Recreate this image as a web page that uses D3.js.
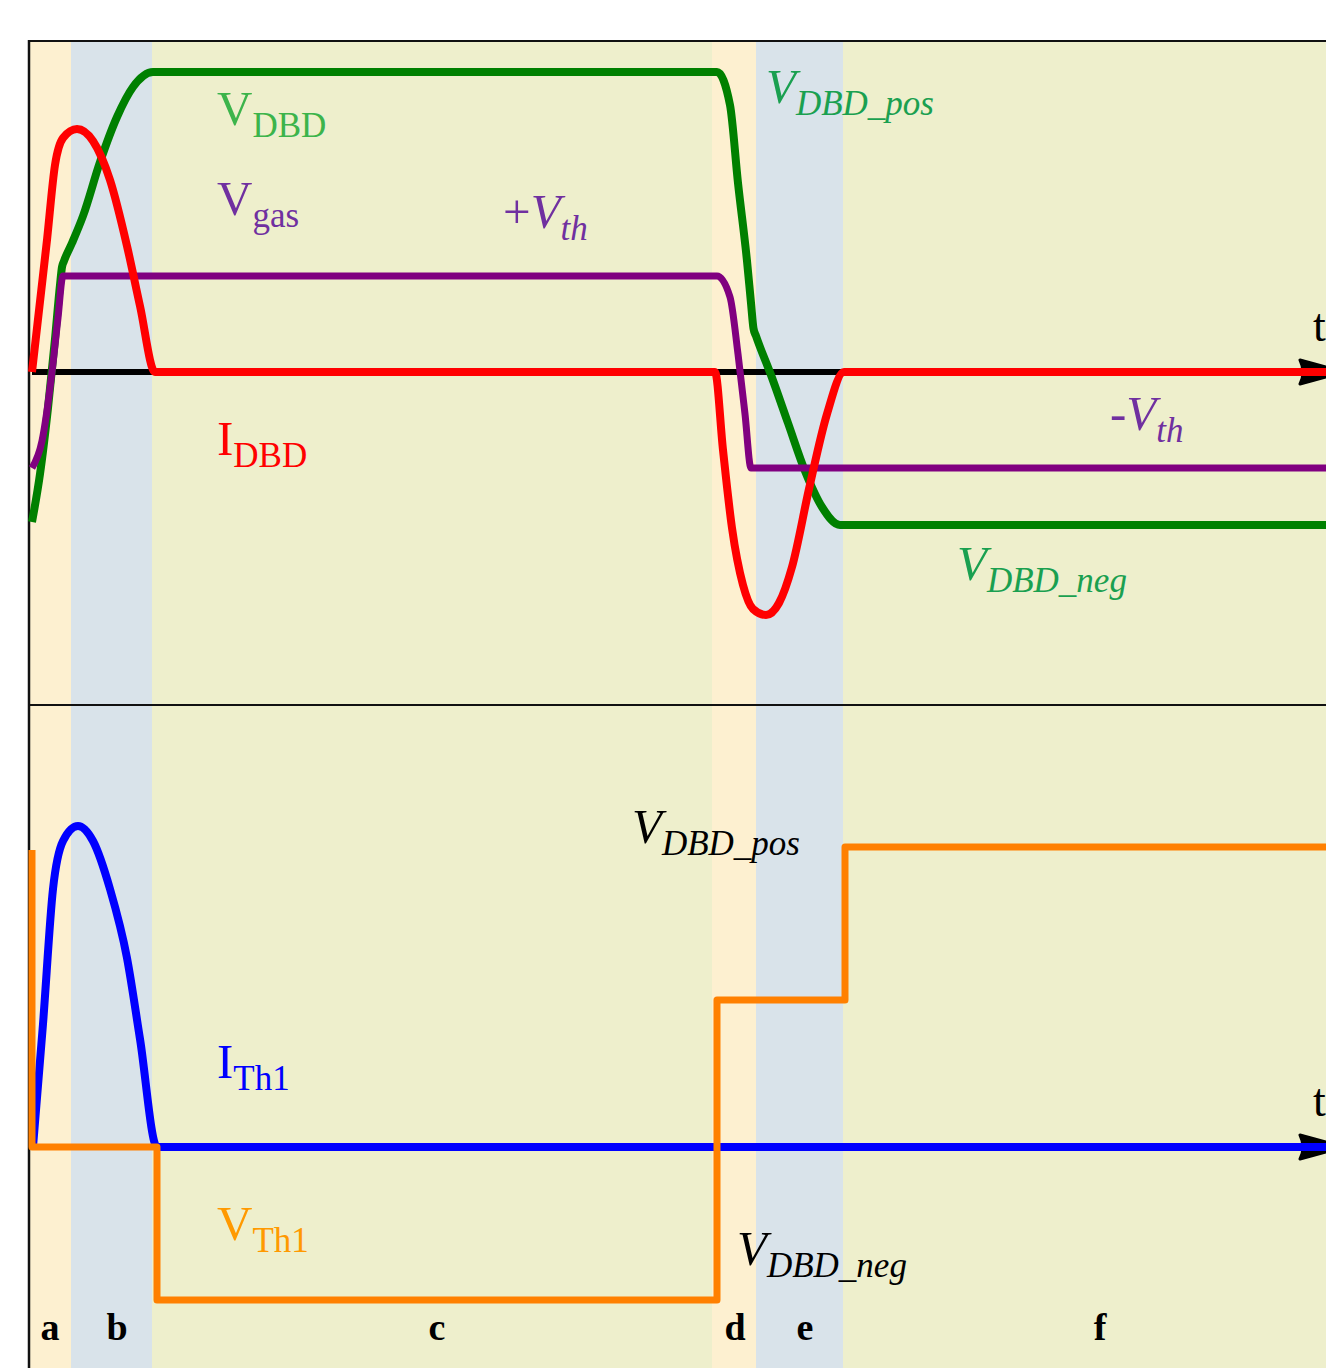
<!DOCTYPE html>
<html>
<head>
<meta charset="utf-8">
<script src="https://cdn.jsdelivr.net/npm/d3@7"></script>
<style>
  body { margin: 0; background: #fff; }
  text { font-family: 'Liberation Serif', 'DejaVu Serif', serif; }
</style>
</head>
<body>
<svg id="chart" width="1326" height="1368"></svg>
<script>
// phase intervals (time units)
const phaseNames = ['a', 'b', 'c', 'd', 'e', 'f']
const phaseStart = [0, 4.2, 12.3, 68.3, 72.7, 81.4]
const phaseEnd = [4.2, 12.3, 68.3, 72.7, 81.4, 131]
const phaseKind = ['dis', 'arc', 'off', 'dis', 'arc', 'off']
const phaseLabelT = [2.1, 8.8, 40.8, 70.6, 77.6, 107.1]

// top panel: V_DBD, V_gas, I_DBD
const vdbdT = [0.3, 1.1, 1.9, 2.6, 3.1, 3.3, 3.5, 4.3, 5.4, 7.1, 8.8, 10.4, 12.4, 68.8, 70.1, 70.9, 71.8, 72.2, 72.45, 72.7, 74.2, 75.9, 77.6, 79.3, 81.1, 82, 130]
const vdbdV = [-0.50, -0.34, -0.12, 0.11, 0.29, 0.35, 0.37, 0.43, 0.52, 0.70, 0.85, 0.95, 1.0, 1.0, 0.89, 0.63, 0.37, 0.23, 0.145, 0.12, -0.01, -0.17, -0.33, -0.45, -0.51, -0.51, -0.51]

const vgasT = [0.3, 1.3, 2.3, 2.9, 3.4, 3.9, 68.8, 70.1, 70.9, 71.6, 72.2, 130]
const vgasV = [-0.32, -0.23, 0.0, 0.18, 0.32, 0.32, 0.32, 0.25, 0.06, -0.14, -0.32, -0.32]

const idbdT = [0.3, 1.8, 2.6, 3.4, 4.8, 6.4, 8.1, 9.8, 11.1, 12.6, 68.6, 69.4, 70.3, 71.4, 72.4, 73.7, 75.0, 76.3, 78.0, 79.8, 81.5, 130]
const idbdV = [0, 0.44, 0.69, 0.78, 0.81, 0.77, 0.64, 0.42, 0.22, 0, 0, -0.26, -0.52, -0.71, -0.79, -0.81, -0.77, -0.65, -0.39, -0.14, 0, 0]

// bottom panel: I_Th1, V_Th1
const ithT = [0.4, 1.4, 2.4, 3.4, 4.9, 6.4, 8.1, 9.8, 11.1, 12.8, 130]
const ithV = [0, 0.41, 0.86, 1.02, 1.07, 1.02, 0.86, 0.63, 0.36, 0, 0]

const vthT = [0.3, 0.3, 12.8, 12.8, 68.8, 68.8, 81.6, 81.6, 130]
const vthV = [0.99, 0, 0, -0.51, -0.51, 0.49, 0.49, 1.0, 1.0]

const svg = d3.select('#chart')

const x = d3.scaleLinear().domain([0, 130]).range([29, 1329])
const yTop = d3.scaleLinear().domain([-1, 1]).range([672, 72])
const yBot = d3.scaleLinear().domain([-1, 1]).range([1447, 847])

const bgColor = { dis: '#fdf0d0', arc: '#d9e3ea', off: '#eeefcc' }

// phase backgrounds
svg.append('g')
  .selectAll('rect')
  .data(phaseNames)
  .join('rect')
  .attr('x', (d, i) => x(phaseStart[i]))
  .attr('y', 41)
  .attr('width', (d, i) => x(phaseEnd[i]) - x(phaseStart[i]))
  .attr('height', 1368 - 41)
  .attr('fill', (d, i) => bgColor[phaseKind[i]])

// frame + panel divider
svg.append('line').attr('x1', 29).attr('x2', 1326).attr('y1', 41).attr('y2', 41)
  .attr('stroke', '#111').attr('stroke-width', 2)
svg.append('line').attr('x1', 29).attr('x2', 29).attr('y1', 40).attr('y2', 1368)
  .attr('stroke', '#111').attr('stroke-width', 2.5)
svg.append('line').attr('x1', 29).attr('x2', 1326).attr('y1', 705).attr('y2', 705)
  .attr('stroke', '#111').attr('stroke-width', 2)

// time axes with arrow
function timeAxis (y0) {
  svg.append('line')
    .attr('x1', 32).attr('x2', 1310).attr('y1', y0).attr('y2', y0)
    .attr('stroke', '#000').attr('stroke-width', 6)
  svg.append('path')
    .attr('d', `M1300,${y0 - 12} L1345,${y0} L1300,${y0 + 12} Q1306,${y0} 1300,${y0 - 12}Z`)
    .attr('fill', '#000').attr('stroke', '#000').attr('stroke-width', 3)
    .attr('stroke-linejoin', 'round')
  svg.append('text')
    .attr('x', 1313).attr('y', y0 - 31)
    .attr('font-size', 46)
    .text('t')
}
timeAxis(yTop(0))
timeAxis(yBot(0))

function series (T, V) { return T.map((t, i) => [t, V[i]]) }

function drawLine (T, V, y, color, width, curve) {
  svg.append('path')
    .datum(series(T, V))
    .attr('d', d3.line().x(d => x(d[0])).y(d => y(d[1])).curve(curve))
    .attr('fill', 'none')
    .attr('stroke', color)
    .attr('stroke-width', width)
    .attr('stroke-linejoin', 'round')
}

drawLine(vdbdT, vdbdV, yTop, '#008000', 8, d3.curveMonotoneX)
drawLine(vgasT, vgasV, yTop, '#800080', 7, d3.curveMonotoneX)
drawLine(idbdT, idbdV, yTop, '#ff0000', 8, d3.curveMonotoneX)

drawLine(ithT, ithV, yBot, '#0000ff', 8, d3.curveMonotoneX)
drawLine(vthT, vthV, yBot, '#ff8000', 7, d3.curveLinear)

// labels: main letter + subscript
function label (px, py, main, sub, color, italic, prefix) {
  const t = svg.append('text')
    .attr('x', px).attr('y', py)
    .attr('fill', color)
    .attr('font-size', 49)
  if (prefix) t.append('tspan').text(prefix)
  t.append('tspan')
    .attr('font-style', italic ? 'italic' : 'normal')
    .text(main)
  t.append('tspan')
    .attr('dy', 12)
    .attr('font-size', 35)
    .attr('font-style', italic ? 'italic' : 'normal')
    .text(sub)
}

label(217, 125, 'V', 'DBD', '#3cb44b', false)
label(217, 215, 'V', 'gas', '#7030a0', false)
label(217, 455, 'I', 'DBD', '#ff0000', false)
label(503, 228, 'V', 'th', '#7030a0', true, '+')
label(1110, 430, 'V', 'th', '#7030a0', true, '-')
label(766, 103, 'V', 'DBD_pos', '#1aa050', true)
label(957, 580, 'V', 'DBD_neg', '#1aa050', true)

label(217, 1078, 'I', 'Th1', '#0000ff', false)
label(217, 1240, 'V', 'Th1', '#ff9900', false)
label(632, 843, 'V', 'DBD_pos', '#000', true)
label(737, 1265, 'V', 'DBD_neg', '#000', true)

// phase letters
svg.append('g')
  .selectAll('text')
  .data(phaseNames)
  .join('text')
  .attr('x', (d, i) => x(phaseLabelT[i]))
  .attr('y', 1340)
  .attr('text-anchor', 'middle')
  .attr('font-size', 38)
  .attr('font-weight', 'bold')
  .text(d => d)
</script>
</body>
</html>
